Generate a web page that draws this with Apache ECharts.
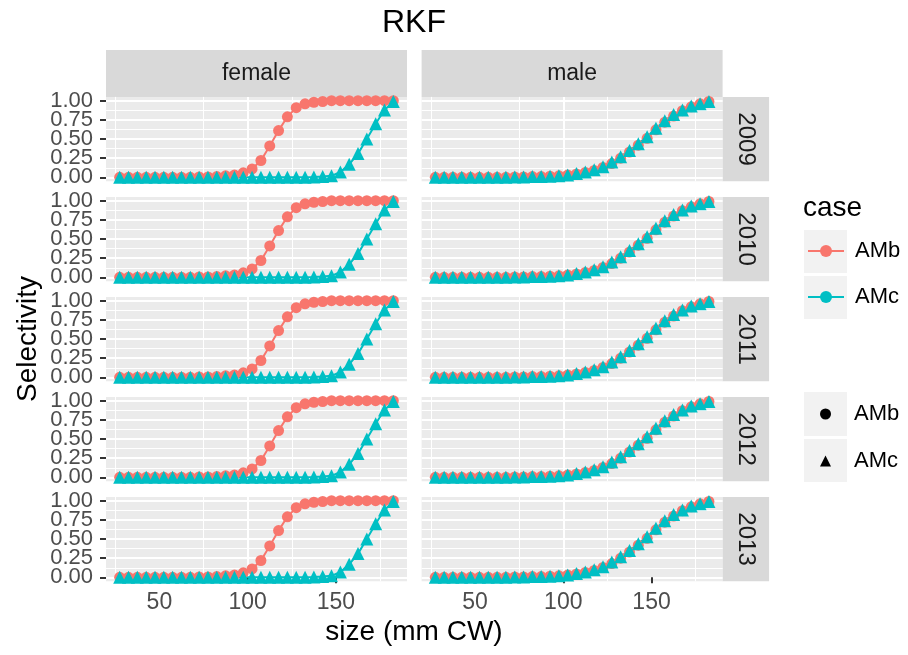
<!DOCTYPE html>
<html>
<head>
<meta charset="utf-8">
<title>RKF</title>
<script src="https://cdn.jsdelivr.net/npm/echarts@6/dist/echarts.min.js"></script>
<style>
  html, body { margin: 0; padding: 0; background: #fff; }
  #chart { width: 908px; height: 655px; }
</style>
</head>
<body>
<div id="chart"></div>
<script>
  // size bins (mm CW)
  const sizes = [27.5, 32.5, 37.5, 42.5, 47.5, 52.5, 57.5, 62.5, 67.5, 72.5, 77.5, 82.5,
                 87.5, 92.5, 97.5, 102.5, 107.5, 112.5, 117.5, 122.5, 127.5, 132.5, 137.5, 142.5,
                 147.5, 152.5, 157.5, 162.5, 167.5, 172.5, 177.5, 182.5]
  const sexes = ['female', 'male']
  const years = ['2009', '2010', '2011', '2012', '2013']
  const cases = ['AMb', 'AMc']
  const xTicks = [50, 100, 150]
  const yTicks = [0, 0.25, 0.5, 0.75, 1]

  // selectivity curves, the years look the same in the picture
  const femaleAMb = [0, 0, 0, 0, 0, 0, 0, 0, 0, 0.005, 0.005, 0.01,
                     0.02, 0.03, 0.06, 0.11, 0.22, 0.41, 0.61, 0.79, 0.91, 0.96, 0.98, 0.99,
                     1, 1, 1, 1, 1, 1, 1, 1]
  const femaleAMc = [0, 0, 0, 0, 0, 0, 0, 0, 0, 0, 0, 0,
                     0, 0, 0, 0, 0, 0, 0, 0, 0, 0.002, 0.005, 0.01,
                     0.02, 0.07, 0.17, 0.31, 0.5, 0.7, 0.88, 0.99]
  const maleAMb = [0, 0, 0, 0, 0, 0, 0, 0, 0, 0.005, 0.005, 0.01,
                   0.01, 0.015, 0.02, 0.03, 0.045, 0.065, 0.09, 0.13, 0.18, 0.25, 0.33, 0.42,
                   0.51, 0.62, 0.72, 0.8, 0.87, 0.92, 0.96, 0.99]
  const maleAMc = [0, 0, 0, 0, 0, 0, 0, 0, 0, 0.005, 0.005, 0.01,
                   0.01, 0.015, 0.02, 0.03, 0.05, 0.07, 0.1, 0.14, 0.2, 0.27, 0.35, 0.44,
                   0.53, 0.64, 0.74, 0.82, 0.88, 0.93, 0.96, 0.99]

  const curves = {
    female: { AMb: femaleAMb, AMc: femaleAMc },
    male: { AMb: maleAMb, AMc: maleAMc }
  }
  const colors = { AMb: '#F8766D', AMc: '#00BFC4' }
  const symbols = { AMb: 'circle', AMc: 'triangle' }

  // layout
  const font = 'Liberation Sans, Arial, sans-serif'
  const panelLeft = [106, 421.6]
  const panelWidth = 301
  const panelTop = 96.9
  const rowStep = 100
  const panelHeight = 84.3
  const padY = 3.83
  const xMin = 19.75
  const xMax = 190.25

  // the y labels touch each other, so they are split over two axes
  // or echarts drops every other one
  const yLabelsA = yTicks.filter((v, i) => i % 2 === 0)
  const yLabelsB = yTicks.filter((v, i) => i % 2 === 1)
  const yLabelStyle = { formatter: v => v.toFixed(2), color: '#4D4D4D', fontSize: 22, margin: 13, fontFamily: font }

  const grid = [], xAxis = [], yAxis = [], series = [], graphic = []

  // legend icons: line + circle for both cases
  cases.forEach(k => series.push({
    type: 'line', name: k, data: [], xAxisIndex: 1, yAxisIndex: 1,
    symbol: 'circle', itemStyle: { color: colors[k] }, lineStyle: { color: colors[k], width: 2 }
  }))

  years.forEach((year, r) => {
    sexes.forEach((sex, c) => {
      const top = panelTop + r * rowStep
      const bottomRow = r === years.length - 1
      // background grid: grey panel + vertical lines
      grid.push({ left: panelLeft[c], top: top, width: panelWidth, height: panelHeight,
        show: true, backgroundColor: '#EBEBEB', borderWidth: 0 })
      // data grid: 0..1 part of the panel
      grid.push({ left: panelLeft[c], top: top + padY, width: panelWidth, height: panelHeight - 2 * padY })
      const g = grid.length - 2

      xAxis.push({
        type: 'value', gridIndex: g, min: xMin, max: xMax, splitNumber: 3,
        axisLine: { show: false },
        axisTick: { show: bottomRow, customValues: xTicks, length: 6, lineStyle: { color: '#333', width: 2 } },
        axisLabel: { show: bottomRow, customValues: xTicks, color: '#4D4D4D', fontSize: 23, margin: 10, fontFamily: font },
        splitLine: { show: true, showMinLine: false, showMaxLine: false, lineStyle: { color: '#fff', width: 2 } },
        minorTick: { show: false, splitNumber: 2 },
        minorSplitLine: { show: true, lineStyle: { color: '#fff', width: 1 } }
      })
      yAxis.push({
        type: 'value', gridIndex: g, min: -0.05, max: 1.05,
        axisLine: { show: false }, axisTick: { show: false }, splitLine: { show: false },
        axisLabel: Object.assign({ show: c === 0, customValues: yLabelsB }, yLabelStyle)
      })

      xAxis.push({ type: 'value', gridIndex: g + 1, min: xMin, max: xMax, show: false })
      yAxis.push({
        type: 'value', gridIndex: g + 1, min: 0, max: 1, interval: 0.25,
        axisLine: { show: false },
        axisTick: { show: c === 0, customValues: yTicks, length: 6, lineStyle: { color: '#333', width: 2 } },
        axisLabel: Object.assign({ show: c === 0, customValues: yLabelsA, showMinLabel: true, showMaxLabel: true }, yLabelStyle),
        splitLine: { show: true, showMinLine: true, showMaxLine: true, lineStyle: { color: '#fff', width: 2 } },
        minorTick: { show: false, splitNumber: 2 },
        minorSplitLine: { show: true, lineStyle: { color: '#fff', width: 1 } }
      })

      cases.forEach(k => series.push({
        type: 'line', name: k, xAxisIndex: g + 1, yAxisIndex: g + 1,
        data: sizes.map((s, i) => [s, curves[sex][k][i]]),
        symbol: symbols[k], symbolSize: k === 'AMb' ? 11 : 13,
        itemStyle: { color: colors[k] }, lineStyle: { color: colors[k], width: 2 },
        clip: false, silent: true
      }))
    })

    // year strip on the right
    const top = panelTop + r * rowStep
    graphic.push({ type: 'rect', shape: { x: 722.6, y: top, width: 46.5, height: panelHeight }, style: { fill: '#D9D9D9' } })
    graphic.push({ type: 'text', x: 745.8, y: top + panelHeight / 2, rotation: -Math.PI / 2,
      style: { text: year, fill: '#1A1A1A', font: '24px ' + font, align: 'center', verticalAlign: 'middle' } })
  })

  // sex strips on top
  sexes.forEach((sex, c) => {
    graphic.push({ type: 'rect', shape: { x: panelLeft[c], y: 50, width: panelWidth, height: panelTop - 50 }, style: { fill: '#D9D9D9' } })
    graphic.push({ type: 'text', x: panelLeft[c] + panelWidth / 2, y: 73.5,
      style: { text: sex, fill: '#1A1A1A', font: '23px ' + font, align: 'center', verticalAlign: 'middle' } })
  })

  // titles
  graphic.push({ type: 'text', x: 414, y: 23, style: { text: 'RKF', fill: '#000', font: '32px ' + font, align: 'center', verticalAlign: 'middle' } })
  graphic.push({ type: 'text', x: 414, y: 632, style: { text: 'size (mm CW)', fill: '#000', font: '28px ' + font, align: 'center', verticalAlign: 'middle' } })
  graphic.push({ type: 'text', x: 28, y: 339, rotation: Math.PI / 2,
    style: { text: 'Selectivity', fill: '#000', font: '28px ' + font, align: 'center', verticalAlign: 'middle' } })
  graphic.push({ type: 'text', x: 803, y: 208, style: { text: 'case', fill: '#000', font: '28px ' + font, align: 'left', verticalAlign: 'middle' } })

  // legend key backgrounds
  ;[[230, 43], [276, 43], [392, 44], [439, 43]].forEach(([y, h]) => {
    graphic.push({ type: 'rect', shape: { x: 804, y: y, width: 43, height: h }, style: { fill: '#F2F2F2' } })
  })

  const legendText = { fontSize: 22, color: '#000', lineHeight: 22, fontFamily: font }

  const chart = echarts.init(document.getElementById('chart'))
  chart.setOption({
    animation: false,
    textStyle: { fontFamily: font },
    grid: grid,
    xAxis: xAxis,
    yAxis: yAxis,
    legend: [
      { data: cases, orient: 'vertical', left: 807, top: 240, padding: 0, itemWidth: 36, itemHeight: 15, itemGap: 24,
        selectedMode: false, textStyle: Object.assign({ padding: [0, 0, 0, 6] }, legendText) },
      { data: [
          { name: 'AMb', icon: 'circle', itemStyle: { color: '#000', borderWidth: 0 } },
          { name: 'AMc', icon: 'triangle', itemStyle: { color: '#000', borderWidth: 0 } }
        ],
        orient: 'vertical', left: 820, top: 403, padding: 0, itemWidth: 11, itemHeight: 11, itemGap: 25,
        selectedMode: false, textStyle: Object.assign({ padding: [0, 0, 0, 18] }, legendText) }
    ],
    graphic: graphic,
    series: series
  })
</script>
</body>
</html>
